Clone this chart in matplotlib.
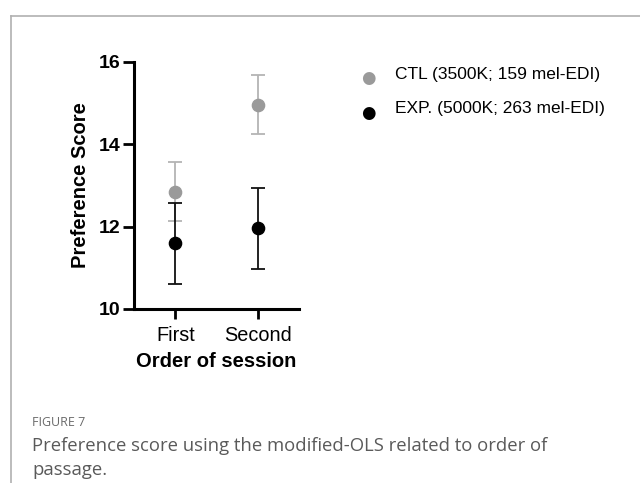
import matplotlib
matplotlib.use("Agg")
import matplotlib.pyplot as plt
from matplotlib.lines import Line2D

plt.rcParams['font.family'] = ['Liberation Sans', 'DejaVu Sans']

# data
sessions = ['First', 'Second']
ctl_mean = [12.85, 14.96]
ctl_err = [0.72, 0.72]
exp_mean = [11.59, 11.96]
exp_err = [0.98, 0.98]
ctl_label = 'CTL (3500K; 159 mel-EDI)'
exp_label = 'EXP. (5000K; 263 mel-EDI)'
y_ticks = [10, 12, 14, 16]

fig = plt.figure(figsize=(6.4, 4.83), dpi=100)

# outer frame lines (top and left)
fig.add_artist(Line2D([11 / 640, 1.0], [1 - 16 / 483, 1 - 16 / 483],
                      color='#b0b0b0', lw=1.2, transform=fig.transFigure))
fig.add_artist(Line2D([11 / 640, 11 / 640], [0.0, 1 - 16 / 483],
                      color='#b0b0b0', lw=1.2, transform=fig.transFigure))

ax = fig.add_axes([134 / 640, 1 - 309 / 483, (299 - 134) / 640, (309 - 61.7) / 483])

x = list(range(len(sessions)))
ax.errorbar(x, ctl_mean, yerr=ctl_err, fmt='o', color='#9a9a9a', ecolor='#b4b4b4',
            markersize=8.8, capsize=5, elinewidth=1.3, capthick=1.3, zorder=3)
ax.errorbar(x, exp_mean, yerr=exp_err, fmt='o', color='black', ecolor='#111111',
            markersize=8.8, capsize=5, elinewidth=1.3, capthick=1.3, zorder=4)

ax.set_xlim(-0.5, 1.5)
ax.set_ylim(10, 16)
ax.set_yticks(y_ticks)
ax.set_yticklabels([str(t) for t in y_ticks], fontweight='bold', fontsize=14)
ax.set_xticks(x)
ax.set_xticklabels(sessions, fontsize=14.3)

for s in ['top', 'right']:
    ax.spines[s].set_visible(False)
for s in ['left', 'bottom']:
    ax.spines[s].set_linewidth(2.2)
ax.tick_params(axis='y', direction='out', width=2.0, length=8, pad=2)
ax.tick_params(axis='x', direction='out', width=2.0, length=7.5, pad=5)

ax.set_ylabel('Preference Score', fontweight='bold', fontsize=14.5, labelpad=6)
ax.set_xlabel('Order of session', fontweight='bold', fontsize=14.5, labelpad=5)

# legend drawn as markers and text in figure space
fig.text(368 / 640, 1 - 78 / 483, '\u25CF', color='#9a9a9a', fontsize=12,
         ha='center', va='center', family='DejaVu Sans')
fig.text(368 / 640, 1 - 113 / 483, '\u25CF', color='black', fontsize=12,
         ha='center', va='center', family='DejaVu Sans')
fig.text(395 / 640, 1 - 74 / 483, ctl_label, fontsize=12.5, ha='left', va='center')
fig.text(395 / 640, 1 - 109 / 483, exp_label, fontsize=12.5, ha='left', va='center')

# caption
fig.text(32 / 640, 1 - 422 / 483, 'FIGURE 7', fontsize=9, color='#6a6a6a',
         ha='left', va='center', family='Open Sans')
fig.text(32 / 640, 1 - 446 / 483,
         'Preference score using the modified-OLS related to order of',
         fontsize=13.3, color='#5a5a5a', ha='left', va='center', family='Open Sans')
fig.text(32 / 640, 1 - 470 / 483, 'passage.',
         fontsize=13.3, color='#5a5a5a', ha='left', va='center', family='Open Sans')

fig.savefig('out.png', dpi=100)
